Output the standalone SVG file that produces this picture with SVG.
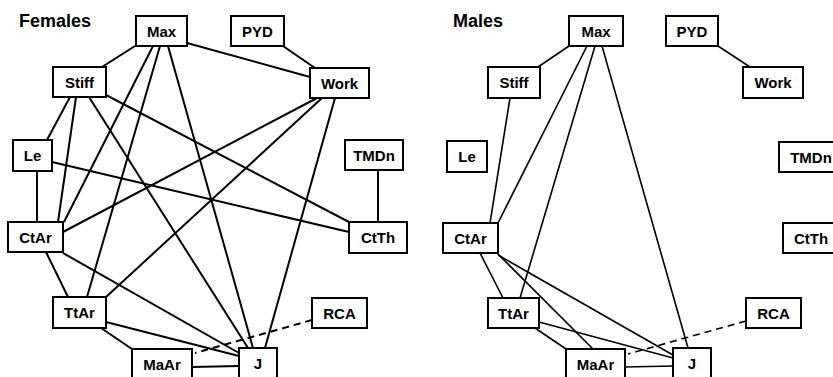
<svg xmlns="http://www.w3.org/2000/svg" width="833" height="377" viewBox="0 0 833 377">
<style>
.bg{fill:#fff}
.box{fill:#fff;stroke:#000;stroke-width:2}
.lbl{font-family:"Liberation Sans",Arial,sans-serif;font-weight:bold;font-size:15px;fill:#000;text-anchor:middle}
.title{font-family:"Liberation Sans",Arial,sans-serif;font-weight:bold;font-size:18px;fill:#000}
.ef line{stroke:#000;stroke-width:2;fill:none}
.em line{stroke:#000;stroke-width:1.6;fill:none}
line.dash{stroke-dasharray:7 5}
</style>
<rect class="bg" x="0" y="0" width="833" height="377"/>
<text class="title" x="19" y="27">Females</text>
<text class="title" x="453" y="27">Males</text>
<g id="edges-females" class="ef">
<line x1="135" y1="46" x2="102" y2="67"/>
<line x1="187" y1="43" x2="310" y2="77"/>
<line x1="283" y1="46" x2="315" y2="68"/>
<line x1="153" y1="46" x2="64" y2="222"/>
<line x1="160" y1="46" x2="87" y2="297"/>
<line x1="168" y1="46" x2="253" y2="348"/>
<line x1="70" y1="97" x2="47" y2="140"/>
<line x1="76" y1="97" x2="58" y2="222"/>
<line x1="89" y1="97" x2="248" y2="348"/>
<line x1="106" y1="95" x2="349" y2="222"/>
<line x1="52" y1="162" x2="349" y2="232"/>
<line x1="37" y1="171" x2="37" y2="222"/>
<line x1="317" y1="98" x2="63" y2="232"/>
<line x1="322" y1="98" x2="106" y2="297"/>
<line x1="335" y1="98" x2="265" y2="348"/>
<line x1="378" y1="170" x2="378" y2="222"/>
<line x1="46" y1="252" x2="68" y2="297"/>
<line x1="63" y1="253" x2="239" y2="353"/>
<line x1="106" y1="322" x2="239" y2="356"/>
<line x1="101" y1="328" x2="132" y2="349"/>
<line x1="192" y1="367" x2="239" y2="366"/>
<line class="dash" x1="312" y1="320" x2="195" y2="353"/>
</g>
<g id="edges-males" class="em">
<line x1="569" y1="46" x2="538" y2="67"/>
<line x1="718" y1="46" x2="750" y2="67"/>
<line x1="510" y1="98" x2="490" y2="223"/>
<line x1="587" y1="46" x2="498" y2="223"/>
<line x1="595" y1="46" x2="520" y2="298"/>
<line x1="602" y1="46" x2="688" y2="348"/>
<line x1="480" y1="253" x2="503" y2="298"/>
<line x1="497" y1="253" x2="593" y2="349"/>
<line x1="498" y1="255" x2="673" y2="355"/>
<line x1="539" y1="322" x2="673" y2="358"/>
<line x1="535" y1="328" x2="566" y2="349"/>
<line x1="625" y1="367" x2="673" y2="366"/>
<line class="dash" x1="746" y1="321" x2="628" y2="354"/>
</g>
<g id="f-Max"><rect class="box" x="136" y="16" width="51" height="30"/><text class="lbl" x="161.5" y="37">Max</text></g>
<g id="f-PYD"><rect class="box" x="231" y="16" width="53" height="30"/><text class="lbl" x="257.5" y="37">PYD</text></g>
<g id="f-Stiff"><rect class="box" x="53" y="67" width="53" height="30"/><text class="lbl" x="79.5" y="88">Stiff</text></g>
<g id="f-Work"><rect class="box" x="310" y="68" width="59" height="30"/><text class="lbl" x="339.5" y="89">Work</text></g>
<g id="f-Le"><rect class="box" x="13" y="140" width="39" height="31"/><text class="lbl" x="32.5" y="161">Le</text></g>
<g id="f-TMDn"><rect class="box" x="345" y="140" width="58" height="30"/><text class="lbl" x="374" y="161">TMDn</text></g>
<g id="f-CtAr"><rect class="box" x="8" y="222" width="55" height="30"/><text class="lbl" x="35.5" y="243">CtAr</text></g>
<g id="f-CtTh"><rect class="box" x="349" y="222" width="58" height="31"/><text class="lbl" x="378" y="243">CtTh</text></g>
<g id="f-TtAr"><rect class="box" x="53" y="297" width="53" height="31"/><text class="lbl" x="79.5" y="318">TtAr</text></g>
<g id="f-RCA"><rect class="box" x="312" y="298" width="55" height="30"/><text class="lbl" x="339.5" y="319">RCA</text></g>
<g id="f-MaAr"><rect class="box" x="132" y="349" width="60" height="32"/><text class="lbl" x="162" y="370">MaAr</text></g>
<g id="f-J"><rect class="box" x="239" y="348" width="38" height="32"/><text class="lbl" x="258" y="369">J</text></g>
<g id="m-Max"><rect class="box" x="569" y="16" width="54" height="30"/><text class="lbl" x="596" y="37">Max</text></g>
<g id="m-PYD"><rect class="box" x="666" y="16" width="52" height="30"/><text class="lbl" x="692" y="37">PYD</text></g>
<g id="m-Stiff"><rect class="box" x="488" y="67" width="52" height="31"/><text class="lbl" x="514" y="88">Stiff</text></g>
<g id="m-Work"><rect class="box" x="743" y="67" width="60" height="31"/><text class="lbl" x="773" y="88">Work</text></g>
<g id="m-Le"><rect class="box" x="447" y="141" width="40" height="31"/><text class="lbl" x="467" y="162">Le</text></g>
<g id="m-TMDn"><rect class="box" x="779" y="142" width="64" height="30"/><text class="lbl" x="811" y="163">TMDn</text></g>
<g id="m-CtAr"><rect class="box" x="443" y="223" width="55" height="30"/><text class="lbl" x="470.5" y="244">CtAr</text></g>
<g id="m-CtTh"><rect class="box" x="783" y="223" width="58" height="30"/><text class="lbl" x="811" y="244">CtTh</text></g>
<g id="m-TtAr"><rect class="box" x="488" y="298" width="51" height="30"/><text class="lbl" x="513.5" y="319">TtAr</text></g>
<g id="m-RCA"><rect class="box" x="746" y="298" width="55" height="30"/><text class="lbl" x="773.5" y="319">RCA</text></g>
<g id="m-MaAr"><rect class="box" x="566" y="349" width="59" height="32"/><text class="lbl" x="595.5" y="370">MaAr</text></g>
<g id="m-J"><rect class="box" x="673" y="348" width="38" height="32"/><text class="lbl" x="692" y="369">J</text></g>
</svg>
